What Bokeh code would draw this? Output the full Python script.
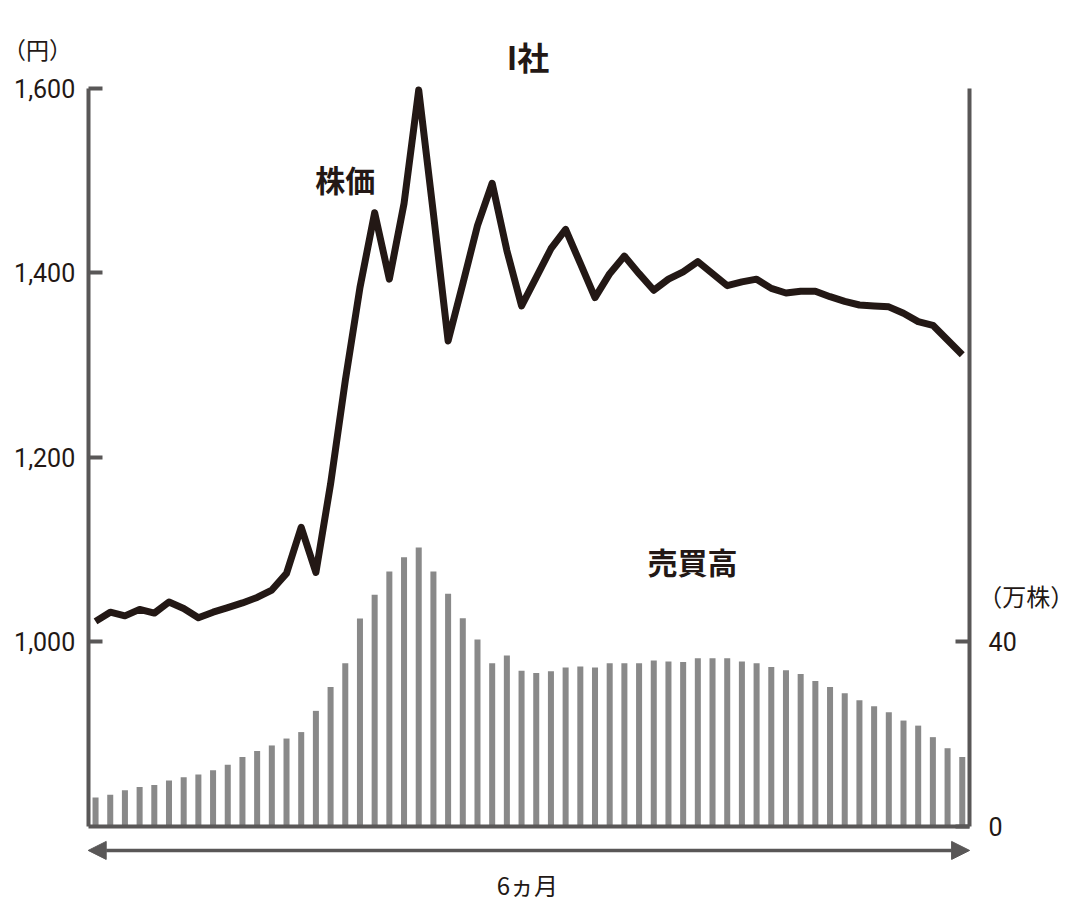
from bokeh.plotting import figure
from bokeh.models import (Range1d, LinearAxis, FixedTicker, NumeralTickFormatter,
                          Label, Arrow, NormalHead)
from bokeh.embed import file_html
from bokeh.resources import INLINE

# ---- data ----
days = list(range(1, 61))
price = [1022, 1032, 1028, 1035, 1031, 1043, 1036, 1026, 1032, 1037,
         1042, 1048, 1056, 1074, 1124, 1075, 1171, 1283, 1384, 1465,
         1393, 1475, 1598, 1464, 1326, 1388, 1451, 1497, 1424, 1364,
         1395, 1426, 1447, 1410, 1373, 1399, 1418, 1399, 1381, 1393,
         1401, 1412, 1399, 1386, 1390, 1393, 1383, 1378, 1380, 1380,
         1374, 1369, 1365, 1364, 1363, 1356, 1347, 1343, 1327, 1311]
volume = [6.2, 6.8, 7.8, 8.5, 8.9, 9.9, 10.6, 11.2, 12.1, 13.3,
          15.0, 16.3, 17.5, 19.0, 20.4, 25.0, 30.2, 35.3, 45.0, 50.2,
          55.2, 58.3, 60.4, 55.2, 50.4, 45.1, 40.5, 35.3, 37.0, 33.7,
          33.2, 33.6, 34.4, 34.6, 34.4, 35.3, 35.3, 35.3, 35.9, 35.7,
          35.6, 36.4, 36.4, 36.4, 35.7, 35.3, 34.5, 33.8, 33.0, 31.5,
          30.2, 28.8, 27.3, 26.0, 24.7, 22.9, 21.8, 19.3, 16.9, 15.0]
price_ticks = [1000, 1200, 1400, 1600]
volume_ticks = [0, 40]
price_bounds = (800, 1600)
volume_bounds = (0, 160)
day_bounds = (0.5, 60.5)
title_text = "I社"
price_unit = "（円）"
volume_unit = "（万株）"
price_label = "株価"
volume_label = "売買高"
period_label = "6ヵ月"

AXIS = "#595757"
INK = "#231815"
BAR = "#898989"
JP = "Noto Sans CJK JP"
NUM = "Roboto"

# frame covers the whole canvas; axes are placed at fixed data locations
p = figure(frame_width=1076, frame_height=905,
           min_border_left=0, min_border_right=0,
           min_border_top=0, min_border_bottom=0,
           x_range=Range1d(-5.47, 67.777), y_range=Range1d(714.0, 1695.1),
           output_backend="svg", toolbar_location=None,
           x_axis_type=None, y_axis_type=None, title=None)
p.outline_line_color = None
p.xgrid.visible = False
p.ygrid.visible = False
p.extra_y_ranges = {"vol": Range1d(-17.2, 179.02)}

# bars (volume)
p.vbar(x=days, top=volume, width=0.41, bottom=0, y_range_name="vol",
       fill_color=BAR, line_color=None)
# price line
p.line(x=days, y=price, line_width=7, line_color=INK, line_join="round")

# axes
left = LinearAxis(ticker=FixedTicker(ticks=price_ticks),
                  formatter=NumeralTickFormatter(format="0,0"),
                  fixed_location=day_bounds[0], bounds=price_bounds)
right = LinearAxis(y_range_name="vol", ticker=FixedTicker(ticks=volume_ticks),
                   fixed_location=day_bounds[1], bounds=volume_bounds)
bottom = LinearAxis(ticker=FixedTicker(ticks=[]),
                    fixed_location=price_bounds[0], bounds=day_bounds)
for ax in (left, right, bottom):
    ax.axis_line_color = AXIS
    ax.axis_line_width = 4
    ax.major_tick_line_color = AXIS
    ax.major_tick_line_width = 4
    ax.major_tick_in = 14
    ax.major_tick_out = 0
    ax.minor_tick_line_color = None
    ax.major_label_text_font = NUM
    ax.major_label_text_font_size = "25px"
    ax.major_label_text_color = INK
left.major_label_standoff = 13
right.major_label_standoff = 19
bottom.major_label_text_font_size = "0px"
p.add_layout(left, "left")
p.add_layout(right, "right")
p.add_layout(bottom, "below")

def lab(x, y, text, size, bold=False, align="center"):
    p.add_layout(Label(x=x, y=y, text=text, text_font=JP,
                       text_font_size=size, text_color=INK,
                       text_font_style="bold" if bold else "normal",
                       text_align=align, text_baseline="middle"))

lab(30.44, 1635.4, title_text, "32px", bold=True)
lab(-2.95, 1643, price_unit, "23px")
lab(64.35, 1050, volume_unit, "24px")
lab(18.0, 1502, price_label, "30px", bold=True)
lab(41.64, 1088, volume_label, "30px", bold=True)
lab(30.4, 736.5, period_label, "24px")

p.add_layout(Arrow(x_start=day_bounds[0], y_start=773.7,
                   x_end=day_bounds[1], y_end=773.7,
                   line_color=AXIS, line_width=3.5,
                   start=NormalHead(size=18, fill_color=AXIS, line_color=AXIS),
                   end=NormalHead(size=18, fill_color=AXIS, line_color=AXIS)))

open("out.html", "w").write(file_html(p, INLINE))
